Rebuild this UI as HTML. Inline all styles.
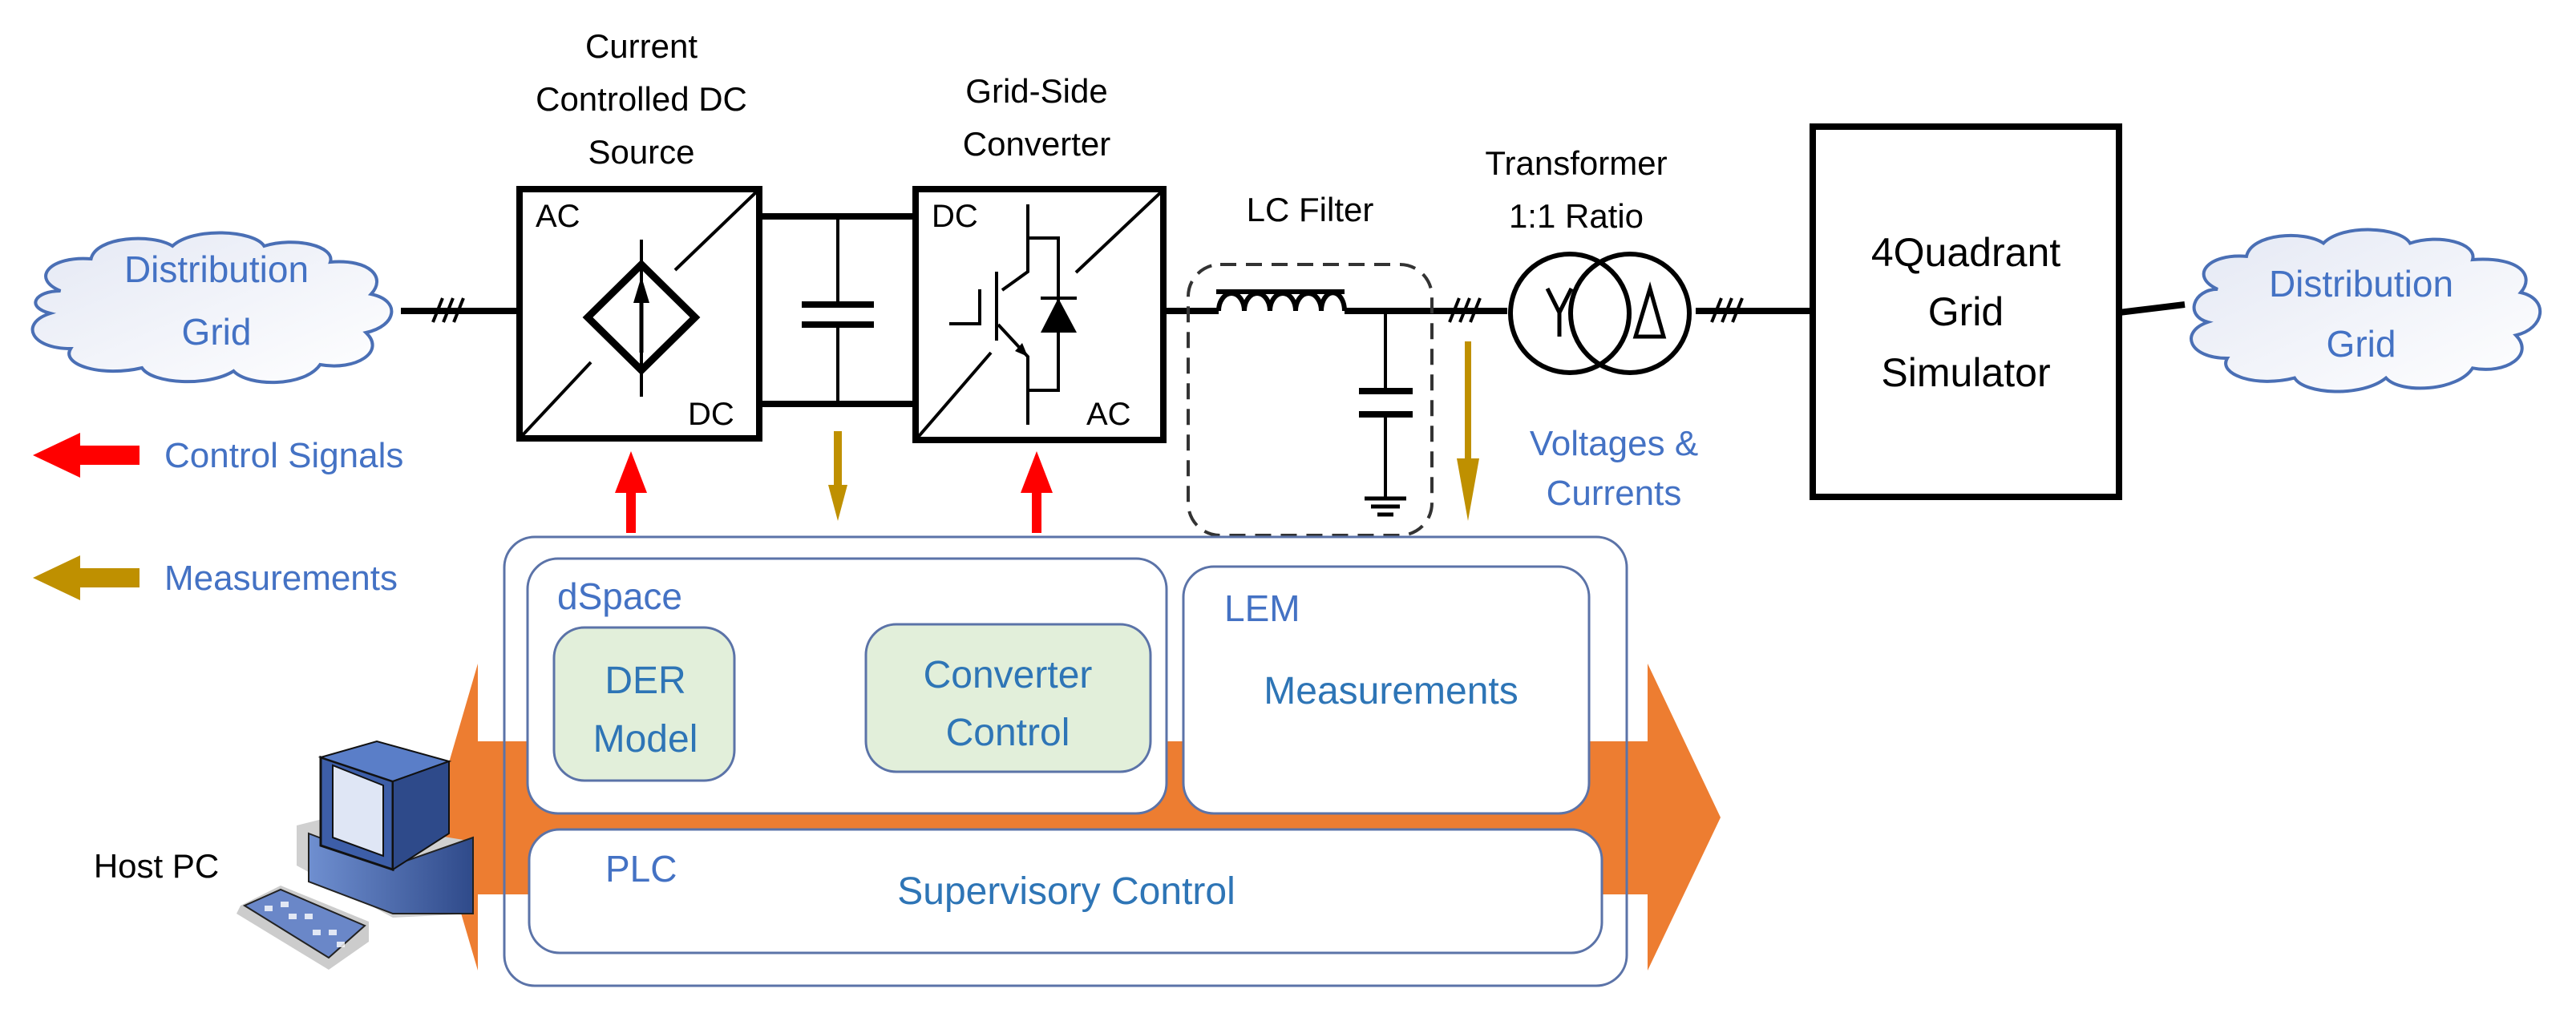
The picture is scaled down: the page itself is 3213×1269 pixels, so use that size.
<!DOCTYPE html>
<html><head><meta charset="utf-8"><style>
html,body{margin:0;padding:0;background:#fff;}
svg{display:block;}
text{font-family:"Liberation Sans",sans-serif;}
</style></head><body>
<svg width="3213" height="1269" viewBox="0 0 3213 1269" xmlns="http://www.w3.org/2000/svg">
<defs>
<linearGradient id="cl" x1="0" y1="0" x2="1" y2="1"><stop offset="0" stop-color="#e4e8f4"/><stop offset="1" stop-color="#ffffff"/></linearGradient>
<linearGradient id="pcb" x1="0" y1="0" x2="1" y2="0"><stop offset="0" stop-color="#6f8fd0"/><stop offset="1" stop-color="#2f4a8a"/></linearGradient>
</defs>
<!-- Orange bidirectional arrow -->
<polygon points="540,1020 596,828 596,925 2055,925 2055,828 2146,1020 2055,1211 2055,1116 596,1116 596,1211" fill="#ED7D31"/>

<!-- Clouds -->
<g fill="url(#cl)" stroke="#4a6fb5" stroke-width="4">
<path transform="translate(31,287) scale(1.27,0.8) translate(-35,-245)" vector-effect="non-scaling-stroke" d="M70,340 C40,320 60,285 100,290 C105,255 160,250 180,270 C200,240 260,245 270,270 C300,255 340,270 335,295 C375,290 390,320 375,345 C405,355 400,395 370,405 C390,435 360,465 325,455 C310,490 255,490 240,465 C215,490 160,485 150,460 C110,475 70,455 80,430 C40,430 30,390 60,375 C35,365 45,340 70,340 Z"/>
<path transform="translate(2718,283) scale(1.2,0.82) translate(-2735,-235)" vector-effect="non-scaling-stroke" d="M2775,330 C2745,310 2765,275 2805,280 C2810,245 2865,240 2885,260 C2905,230 2965,235 2975,260 C3005,245 3045,260 3040,285 C3090,280 3105,310 3090,335 C3120,345 3115,390 3085,400 C3105,430 3075,460 3040,450 C3025,485 2965,490 2950,465 C2925,495 2865,490 2855,465 C2815,480 2775,460 2785,435 C2745,435 2735,395 2765,380 C2740,370 2750,330 2775,330 Z"/>
</g>
<g fill="#4472C4" font-size="46" text-anchor="middle">
<text x="270" y="352">Distribution</text><text x="270" y="430">Grid</text>
<text x="2945" y="370">Distribution</text><text x="2945" y="445">Grid</text>
</g>

<g stroke="#000" fill="none" stroke-width="8">
<line x1="500" y1="388" x2="648" y2="388"/>
<line x1="947" y1="270" x2="1142" y2="270"/>
<line x1="947" y1="504" x2="1142" y2="504"/>
<line x1="1451" y1="388" x2="1520" y2="388"/>
<line x1="1677" y1="388" x2="1880" y2="388"/>
<line x1="2115" y1="388" x2="2261" y2="388"/>
<path d="M2643,390 L2725,380"/>
<rect x="648" y="236" width="299" height="311"/>
<rect x="1142" y="236" width="309" height="313"/>
<rect x="2261" y="158" width="382" height="462"/>
</g>
<g stroke="#000" fill="none" stroke-width="4">
<path d="M540,402 L552,372 M553,402 L565,372 M566,402 L578,372"/>
<path d="M1808,402 L1820,372 M1821,402 L1833,372 M1834,402 L1846,372"/>
<path d="M2135,402 L2147,372 M2148,402 L2160,372 M2161,402 L2173,372"/>
<line x1="648" y1="547" x2="737" y2="452"/><line x1="842" y1="337" x2="947" y2="236"/>
<line x1="800" y1="299" x2="800" y2="495"/>
<line x1="1142" y1="549" x2="1236" y2="440"/><line x1="1342" y1="340" x2="1451" y2="237"/>
<line x1="1045" y1="270" x2="1045" y2="380"/><line x1="1045" y1="405" x2="1045" y2="504"/>
<path d="M1282,255 L1282,339 L1250,362 M1243,339 L1243,425 M1184,404 L1222,404 L1222,361 M1245,405 L1282,445 L1282,530 M1282,297 L1320,297 L1320,487 L1282,487"/>
<line x1="1298" y1="372" x2="1343" y2="372"/>
<path d="M1520,388 a16,22 0 0 1 32,0 a16,22 0 0 1 32,0 a16,22 0 0 1 32,0 a16,22 0 0 1 32,0 a14,22 0 0 1 29,0" stroke-width="6"/>
<line x1="1728" y1="388" x2="1728" y2="488"/><line x1="1728" y1="517" x2="1728" y2="622"/>
<circle cx="1958" cy="391" r="74" stroke-width="6"/><circle cx="2033" cy="391" r="74" stroke-width="6"/>
<path d="M1930,360 L1945,390 L1960,360 M1945,390 L1945,420" stroke-width="5"/>
<path d="M2040,420 L2058,360 L2075,420 Z" stroke-width="5"/>
</g>
<line x1="1517" y1="364" x2="1677" y2="364" stroke="#000" stroke-width="6"/>
<g stroke="#000" stroke-width="8">
<line x1="1000" y1="380" x2="1090" y2="380"/><line x1="1000" y1="405" x2="1090" y2="405"/>
<line x1="1695" y1="488" x2="1762" y2="488"/><line x1="1695" y1="517" x2="1762" y2="517"/>
<line x1="1702" y1="622" x2="1754" y2="622" stroke-width="5"/><line x1="1710" y1="632" x2="1746" y2="632" stroke-width="5"/><line x1="1718" y1="642" x2="1738" y2="642" stroke-width="5"/>
</g>
<polygon points="1282,445 1266,438 1275,428" fill="#000"/>
<polygon points="1298,415 1343,415 1320,372" fill="#000"/>
<polygon points="800,330 867,396 800,462 733,396" fill="none" stroke="#000" stroke-width="9"/>
<polygon points="800,345 790,378 810,378" fill="#000"/>
<line x1="800" y1="370" x2="800" y2="440" stroke="#000" stroke-width="5"/>
<rect x="1482" y="330" width="304" height="338" rx="40" fill="none" stroke="#333" stroke-width="4" stroke-dasharray="20,12"/>

<g font-size="42" text-anchor="middle" fill="#000">
<text x="800" y="72">Current</text><text x="800" y="138">Controlled DC</text><text x="800" y="204">Source</text>
<text x="1293" y="128">Grid-Side</text><text x="1293" y="194">Converter</text>
<text x="1634" y="276">LC Filter</text>
<text x="1966" y="218">Transformer</text><text x="1966" y="284">1:1 Ratio</text>
<text x="2452" y="332" font-size="50">4Quadrant</text><text x="2452" y="406" font-size="50">Grid</text><text x="2452" y="482" font-size="50">Simulator</text>
<text x="195" y="1095">Host PC</text>
</g>
<g font-size="40" fill="#000">
<text x="668" y="283">AC</text><text x="858" y="530">DC</text>
<text x="1162" y="283">DC</text><text x="1355" y="530">AC</text>
</g>

<g fill="#FF0000">
<polygon points="41,568 100,540 100,556 174,556 174,580 100,580 100,596"/>
<polygon points="787,563 767,615 781,615 781,665 793,665 793,615 807,615"/>
<polygon points="1293,563 1273,615 1287,615 1287,665 1299,665 1299,615 1313,615"/>
</g>
<g fill="#BF9000">
<polygon points="41,721 100,693 100,709 174,709 174,733 100,733 100,749"/>
<polygon points="1045,650 1033,605 1040,605 1040,538 1050,538 1050,605 1057,605"/>
<polygon points="1831,650 1817,572 1827,572 1827,426 1835,426 1835,572 1845,572"/>
</g>
<g font-size="44" fill="#4472C4">
<text x="205" y="583">Control Signals</text>
<text x="205" y="736">Measurements</text>
<text x="2013" y="568" text-anchor="middle">Voltages &amp;</text>
<text x="2013" y="630" text-anchor="middle">Currents</text>
</g>

<rect x="629" y="670" width="1400" height="560" rx="38" fill="none" stroke="#5b73a8" stroke-width="3"/>
<rect x="658" y="697" width="797" height="318" rx="38" fill="#fff" stroke="#5b73a8" stroke-width="3"/>
<rect x="1476" y="707" width="506" height="308" rx="38" fill="#fff" stroke="#5b73a8" stroke-width="3"/>
<rect x="660" y="1035" width="1338" height="154" rx="38" fill="#fff" stroke="#5b73a8" stroke-width="3"/>
<rect x="691" y="783" width="225" height="191" rx="38" fill="#E2EFDA" stroke="#5b73a8" stroke-width="3"/>
<rect x="1080" y="779" width="355" height="184" rx="38" fill="#E2EFDA" stroke="#5b73a8" stroke-width="3"/>
<g font-size="46" fill="#4472C4">
<text x="695" y="760">dSpace</text>
<text x="1527" y="775">LEM</text>
<text x="755" y="1100">PLC</text>
</g>
<g font-size="48" fill="#2E75B6" text-anchor="middle">
<text x="805" y="865">DER</text><text x="805" y="938">Model</text>
<text x="1257" y="858">Converter</text><text x="1257" y="930">Control</text>
<text x="1735" y="878">Measurements</text>
<text x="1330" y="1128">Supervisory Control</text>
</g>

<g>
<polygon points="370,1030 410,1020 590,1050 590,1140 490,1145 370,1080" fill="#d0d0d0"/>
<polygon points="385,1040 490,1080 590,1045 590,1140 490,1140 385,1100" fill="url(#pcb)" stroke="#222" stroke-width="2"/>
<polygon points="400,945 400,1055 490,1085 490,975" fill="#3d5ea8" stroke="#111" stroke-width="3"/>
<polygon points="415,955 415,1045 478,1068 478,980" fill="#dfe6f5" stroke="#111" stroke-width="2"/>
<polygon points="400,945 470,925 560,950 490,975" fill="#5a7ec8" stroke="#111" stroke-width="2"/>
<polygon points="490,975 560,950 560,1040 490,1085" fill="#2e4a8a" stroke="#111" stroke-width="2"/>
<polygon points="300,1130 350,1105 460,1150 460,1175 410,1210 295,1140" fill="#ccc"/>
<polygon points="305,1130 350,1110 455,1155 410,1195" fill="#6a87c8" stroke="#222" stroke-width="2"/>
<g fill="#fff" opacity="0.8">
<rect x="330" y="1130" width="10" height="7"/><rect x="350" y="1125" width="10" height="7"/><rect x="360" y="1140" width="10" height="7"/><rect x="380" y="1140" width="10" height="7"/><rect x="390" y="1160" width="10" height="7"/><rect x="410" y="1160" width="10" height="7"/><rect x="420" y="1175" width="10" height="7"/>
</g>
</g>
</svg>
</body></html>
